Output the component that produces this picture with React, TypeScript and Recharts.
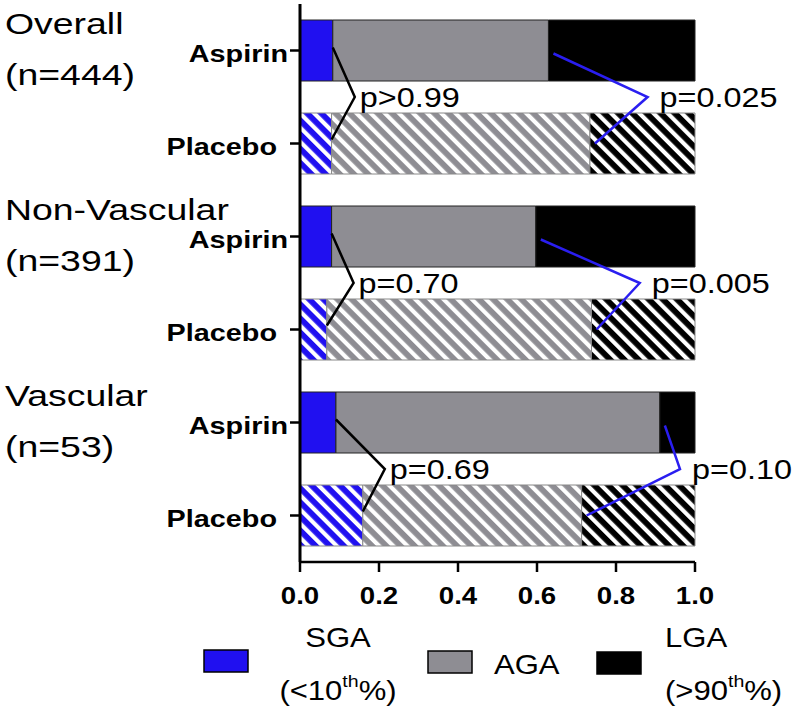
import React, { useState } from 'react';
import { createPortal } from 'react-dom';
import * as R from 'recharts';

const { BarChart, Bar, XAxis, YAxis, Cell, Customized } = R as any;
// plot-area hook (recharts 3); fall back to the fixed margins below if missing
const usePlotAreaSafe: () => any = (R as any).usePlotArea ?? (() => null);

const groups = ['Overall', 'Non-Vascular', 'Vascular'];
const groupN = ['(n=444)', '(n=391)', '(n=53)'];
const arms = ['Aspirin', 'Placebo'];

// shares per bar: Overall A/P, Non-Vascular A/P, Vascular A/P
const sga = [0.083, 0.080, 0.080, 0.068, 0.091, 0.159];
const aga = [0.546, 0.654, 0.517, 0.670, 0.820, 0.554];
const lga = [0.371, 0.266, 0.403, 0.262, 0.089, 0.287];

const pSga = ['p>0.99', 'p=0.70', 'p=0.69'];
const pLga = ['p=0.025', 'p=0.005', 'p=0.10'];
// where the LGA bracket tip sits, in x units
const lgaTip = [0.88, 0.86, 0.962];

const xTicks = [0, 0.2, 0.4, 0.6, 0.8, 1.0];

const seriesKeys = ['sga', 'aga', 'lga'];
const seriesNames = ['SGA', 'AGA', 'LGA'];
const colors: Record<string, string> = { sga: '#2010f0', aga: '#8e8d93', lga: '#000000' };

const ids = groups.flatMap((g) => arms.map((a) => `${g}|${a}`));
const data = ids.map((id, i) => ({ id, arm: arms[i % 2], sga: sga[i], aga: aga[i], lga: lga[i] }));

const W = 800;
const H = 714;
const MARGIN = { top: 4, right: 105, bottom: 0, left: 0 };
const Y_W = 300;
const X_H = 152;
const FONT = '"Liberation Sans", Arial, sans-serif';
const SX = 1.2;

function ArmTick({ x, y, payload }: any) {
  const arm = String(payload.value).split('|')[1];
  const ex = arm === 'Placebo' ? x - 11 : x;
  return (
    <text transform={`translate(${ex},${y + 11}) scale(${SX},1)`} textAnchor="end"
      fontFamily={FONT} fontWeight="bold" fontSize={24} fill="#000">
      {arm}
    </text>
  );
}

function ValueTick({ x, y, payload }: any) {
  return (
    <text transform={`translate(${x},${y + 32}) scale(${SX},1)`} textAnchor="middle"
      fontFamily={FONT} fontWeight="bold" fontSize={23} fill="#000">
      {Number(payload.value).toFixed(1)}
    </text>
  );
}

function T({ x, y, size = 27, anchor = 'start', sx = SX, children }: any) {
  return (
    <text transform={`translate(${x},${y}) scale(${sx},1)`} textAnchor={anchor}
      fontFamily={FONT} fontSize={size} fill="#000">
      {children}
    </text>
  );
}

function Overlay({ layer }: any) {
  const pa = usePlotAreaSafe() ?? {
    x: MARGIN.left + Y_W, y: MARGIN.top,
    width: W - MARGIN.left - Y_W - MARGIN.right, height: H - MARGIN.top - MARGIN.bottom - X_H,
  };
  const sx = (v: number) => pa.x + v * pa.width;
  const band = pa.height / ids.length;
  const cy = (i: number) => pa.y + (i + 0.5) * band;

  const content = (
    <g>
      {groups.map((g, k) => {
        const ia = k * 2;
        const ip = k * 2 + 1;
        const ya = cy(ia);
        const yp = cy(ip);
        const mid = (ya + yp) / 2;
        const sA = sx(sga[ia]);
        const sP = sx(sga[ip]);
        const tipS = Math.max(sA, sP) + 22;
        const aA = sx(sga[ia] + aga[ia]) + 5;
        const aP = sx(sga[ip] + aga[ip]) + 5;
        const tipL = sx(lgaTip[k]);
        return (
          <g key={g}>
            <T x={5} y={ya - 17} size={29} sx={1.29}>{g}</T>
            <T x={5} y={ya + 34} size={29} sx={1.29}>{groupN[k]}</T>
            <polyline points={`${sA},${ya - 3} ${tipS},${mid} ${sP},${yp - 4}`}
              fill="none" stroke="#000" strokeWidth={2.5} />
            <polyline points={`${aA},${ya + 3} ${tipL},${mid} ${aP},${yp}`}
              fill="none" stroke="#2a1ef0" strokeWidth={2.5} />
            <T x={tipS + 5} y={mid + 10}>{pSga[k]}</T>
            <T x={tipL + 12} y={mid + 10}>{pLga[k]}</T>
          </g>
        );
      })}
      {/* legend */}
      <rect x={204} y={650} width={44} height={22} fill={colors.sga} stroke="#000" strokeWidth={1.5} />
      <T x={338} y={647} anchor="middle" sx={1.15}>{seriesNames[0]}</T>
      <text transform={`translate(338,700) scale(1.15,1)`} textAnchor="middle" fontFamily={FONT} fontSize={27}>
        (&lt;10<tspan fontSize={17} dy={-13}>th</tspan><tspan dy={13}>%)</tspan>
      </text>
      <rect x={428} y={651} width={44} height={22} fill={colors.aga} stroke="#000" strokeWidth={1.5} />
      <T x={494} y={674} sx={1.15}>{seriesNames[1]}</T>
      <rect x={597} y={652} width={44} height={22} fill={colors.lga} stroke="#000" strokeWidth={1.5} />
      <T x={665} y={647} sx={1.15}>{seriesNames[2]}</T>
      <text transform={`translate(665,700) scale(1.15,1)`} textAnchor="start" fontFamily={FONT} fontSize={27}>
        (&gt;90<tspan fontSize={17} dy={-13}>th</tspan><tspan dy={13}>%)</tspan>
      </text>
    </g>
  );
  // draw above the bars
  return layer ? createPortal(content, layer) : null;
}

export default function App() {
  const [layer, setLayer] = useState<SVGSVGElement | null>(null);
  return (
    <div style={{ position: 'absolute', left: 0, top: 0, width: W, height: H, background: '#fff' }}>
      <svg width={0} height={0} style={{ position: 'absolute' }}>
        <defs>
          {seriesKeys.map((k) => (
            <pattern key={k} id={`hatch-${k}`} patternUnits="userSpaceOnUse" width={10} height={10}
              patternTransform="rotate(-45)">
              <rect width={10} height={10} fill={colors[k]} />
              <rect x={0} width={4.2} height={10} fill="#fff" />
            </pattern>
          ))}
        </defs>
      </svg>
      <BarChart width={W} height={H} data={data} layout="vertical" margin={MARGIN}>
        <XAxis type="number" domain={[0, 1]} ticks={xTicks} height={X_H} tickSize={10} tickMargin={0}
          axisLine={{ stroke: '#000', strokeWidth: 2.5 }} tickLine={{ stroke: '#000', strokeWidth: 2.5 }}
          tick={<ValueTick />} interval={0} />
        <YAxis type="category" dataKey="id" width={Y_W} tickSize={10} tickMargin={2}
          axisLine={{ stroke: '#000', strokeWidth: 3 }} tickLine={{ stroke: '#000', strokeWidth: 2.5 }}
          tick={<ArmTick />} interval={0} />
        {seriesKeys.map((k) => (
          <Bar key={k} dataKey={k} stackId="a" barSize={61} isAnimationActive={false}>
            {data.map((d) => (
              <Cell key={d.id}
                fill={d.arm === 'Aspirin' ? colors[k] : `url(#hatch-${k})`}
                stroke={d.arm === 'Aspirin' ? '#222' : '#888'} strokeWidth={1} />
            ))}
          </Bar>
        ))}
        <Customized component={<Overlay layer={layer} />} />
      </BarChart>
      <svg ref={setLayer} width={W} height={H}
        style={{ position: 'absolute', left: 0, top: 0, pointerEvents: 'none' }} />
    </div>
  );
}
